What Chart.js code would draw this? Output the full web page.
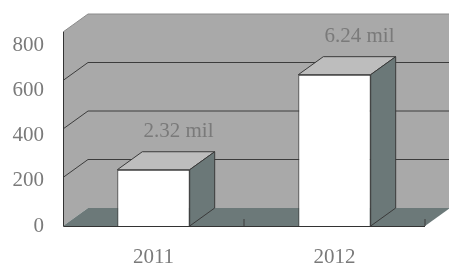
<!DOCTYPE html>
<html>
<head>
<meta charset="utf-8">
<style>
    html, body { margin: 0; padding: 0; background: #fff; }
</style>
</head>
<body>
<canvas id="bar-chart" width="449" height="265"></canvas>

<script src="https://cdn.jsdelivr.net/npm/chart.js"></script>

<script>
    const years = ['2011', '2012'];
    const values = [232, 624];
    const valueLabels = ['2.32 mil', '6.24 mil'];
    const yTicks = [0, 200, 400, 600, 800];

    // depth of the fake 3d box
    const dx = 25;
    const dy = -18;

    const textColor = '#7a7a7a';
    const font = { family: 'Liberation Serif', size: 21 };

    function poly(ctx, pts, fill, stroke) {
        ctx.beginPath();
        ctx.moveTo(pts[0][0], pts[0][1]);
        for (let i = 1; i < pts.length; i++) {
            ctx.lineTo(pts[i][0], pts[i][1]);
        }
        ctx.closePath();
        if (fill) {
            ctx.fillStyle = fill;
            ctx.fill();
        }
        if (stroke) {
            ctx.strokeStyle = stroke;
            ctx.stroke();
        }
    }

    const box3d = {
        id: 'box3d',
        beforeDatasetsDraw(chart) {
            const { ctx, chartArea: a, scales: { y } } = chart;
            const y0 = y.getPixelForValue(0);
            const yTop = y.getPixelForValue(yTicks[yTicks.length - 1]);

            ctx.save();
            ctx.lineWidth = 1;

            // left wall + back wall
            poly(ctx, [[a.left, yTop], [a.left + dx, yTop + dy], [a.left + dx, y0 + dy], [a.left, y0]], '#a9a9a9');
            poly(ctx, [[a.left + dx, yTop + dy], [a.right + dx, yTop + dy], [a.right + dx, y0 + dy], [a.left + dx, y0 + dy]], '#a9a9a9');

            ctx.strokeStyle = '#8c8c8c';
            ctx.beginPath();
            ctx.moveTo(a.left, yTop);
            ctx.lineTo(a.left + dx, yTop + dy);
            ctx.lineTo(a.right + dx, yTop + dy);
            ctx.stroke();

            // grid lines
            ctx.strokeStyle = '#3c3c3c';
            yTicks.forEach(v => {
                if (v === 0 || v === yTicks[yTicks.length - 1]) {
                    return;
                }
                const py = y.getPixelForValue(v);
                ctx.beginPath();
                ctx.moveTo(a.left, py);
                ctx.lineTo(a.left + dx, py + dy);
                ctx.lineTo(a.right + dx, py + dy);
                ctx.stroke();
            });

            // floor
            poly(ctx, [[a.left, y0], [a.right, y0], [a.right + dx, y0 + dy], [a.left + dx, y0 + dy]], '#6c7979');

            // floor ticks
            ctx.strokeStyle = '#3c3c3c';
            [a.left + (a.right - a.left) / 2, a.right].forEach(px => {
                ctx.beginPath();
                ctx.moveTo(px, y0);
                ctx.lineTo(px, y0 - 7);
                ctx.stroke();
            });

            // front axis
            ctx.strokeStyle = '#333';
            ctx.beginPath();
            ctx.moveTo(a.left + 0.5, yTop);
            ctx.lineTo(a.left + 0.5, y0 + 0.5);
            ctx.lineTo(a.right, y0 + 0.5);
            ctx.stroke();
            ctx.restore();
        },
        afterDatasetsDraw(chart) {
            const { ctx } = chart;
            const meta = chart.getDatasetMeta(0);

            ctx.save();
            ctx.lineWidth = 1;
            meta.data.forEach((bar, i) => {
                const left = bar.x - bar.width / 2;
                const right = bar.x + bar.width / 2;
                const top = bar.y;
                const base = bar.base;

                poly(ctx, [[left, top], [left + dx, top + dy], [right + dx, top + dy], [right, top]], '#bdbdbd', '#3a3a3a');
                poly(ctx, [[right, top], [right + dx, top + dy], [right + dx, base + dy], [right, base]], '#6b7878', '#3a3a3a');

                ctx.fillStyle = textColor;
                ctx.font = `${font.size}px ${font.family}`;
                ctx.textAlign = 'center';
                ctx.textBaseline = 'middle';
                ctx.fillText(valueLabels[i], bar.x + dx, top + dy - 20);
            });
            ctx.restore();
        }
    };

    const ctx = document.getElementById('bar-chart');

    new Chart(ctx, {
        type: 'bar',
        data: {
            labels: years,
            datasets: [
                {
                    data: values,
                    backgroundColor: '#ffffff',
                    borderColor: '#3a3a3a',
                    borderWidth: 1,
                    barPercentage: 0.4,
                    categoryPercentage: 1,
                    yAxisID: 'y'
                }
            ]
        },
        plugins: [box3d],
        options: {
            responsive: false,
            animation: false,
            layout: {
                padding: { top: 32, right: 24, left: 0, bottom: 0 }
            },
            plugins: {
                legend: { display: false },
                tooltip: { enabled: false }
            },
            scales: {
                x: {
                    grid: { display: false },
                    border: { display: false },
                    ticks: { color: textColor, font, padding: 11 },
                    afterFit: (scale) => { scale.height = 39; }
                },
                y: {
                    display: false,
                    min: 0,
                    max: 800
                },
                yl: {
                    position: 'left',
                    min: 0,
                    max: 857.5,
                    grid: { display: false },
                    border: { display: false },
                    ticks: { color: textColor, font, padding: 11 },
                    afterBuildTicks: (scale) => {
                        scale.ticks = yTicks.map(v => ({ value: v }));
                    },
                    afterFit: (scale) => { scale.width = 63; }
                }
            }
        }
    });
</script>
</body>
</html>
